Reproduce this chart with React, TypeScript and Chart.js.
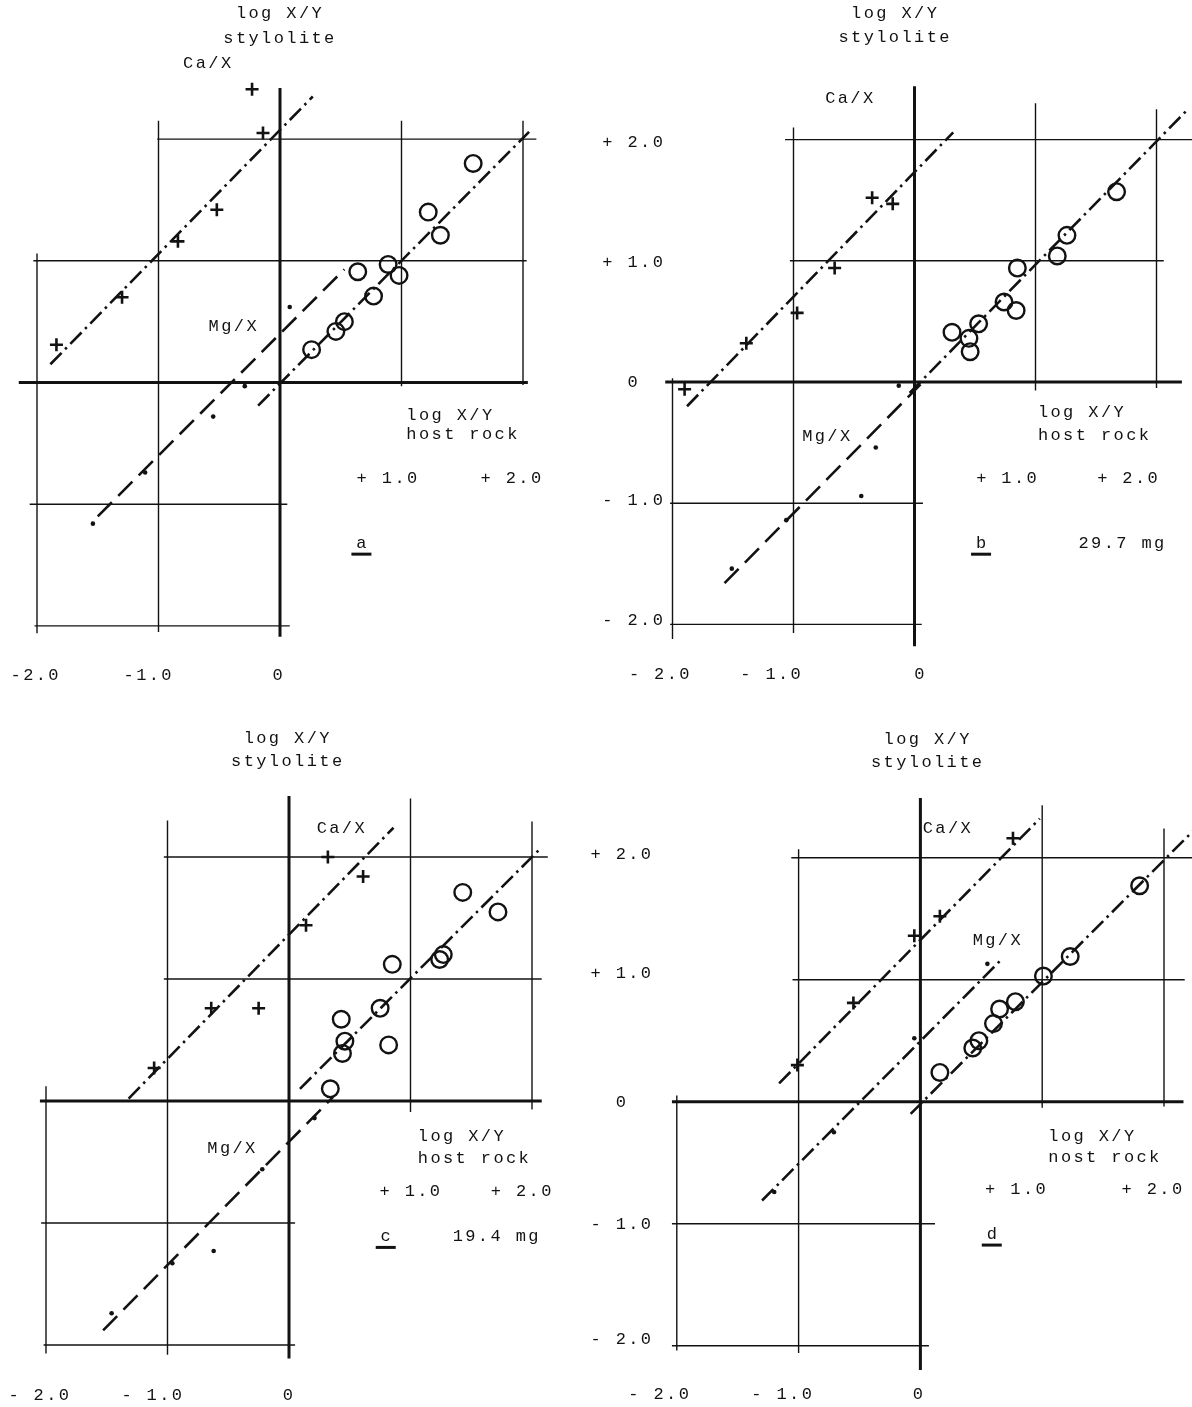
import React, { useEffect, useRef } from "react";
import { Chart, registerables } from "chart.js";

Chart.register(...registerables);

type Pt = [number, number];

// ---------------- panel a ----------------
const caA: Pt[] = [[-0.23, 2.41], [-0.14, 2.05], [-0.52, 1.42], [-0.84, 1.16], [-1.30, 0.70], [-1.84, 0.31]];
const mgA: Pt[] = [[0.08, 0.62], [-0.29, -0.03], [-0.55, -0.28], [-1.11, -0.74], [-1.54, -1.16]];
const hostA: Pt[] = [[1.59, 1.80], [1.22, 1.40], [1.32, 1.21], [0.64, 0.91], [0.89, 0.97], [0.98, 0.88], [0.77, 0.71], [0.53, 0.50], [0.46, 0.42], [0.26, 0.27]];
const caLineA: Pt[] = [[-1.89, 0.15], [0.27, 2.35]];
const mgLineA: Pt[] = [[-1.50, -1.10], [0.53, 0.93]];
const hostLineA: Pt[] = [[-0.18, -0.19], [2.05, 2.06]];

// ---------------- panel b ----------------
const caB: Pt[] = [[-0.35, 1.52], [-0.18, 1.47], [-0.66, 0.94], [-0.97, 0.57], [-1.39, 0.32], [-1.90, -0.06]];
const mgB: Pt[] = [[-0.13, -0.03], [-0.32, -0.54], [-0.44, -0.94], [-1.06, -1.14], [-1.51, -1.54]];
const hostB: Pt[] = [[1.67, 1.57], [1.26, 1.21], [1.18, 1.04], [0.85, 0.94], [0.74, 0.66], [0.84, 0.59], [0.53, 0.48], [0.31, 0.41], [0.45, 0.36], [0.46, 0.25]];
const caLineB: Pt[] = [[-1.88, -0.20], [0.32, 2.06]];
const mgLineB: Pt[] = [[-1.57, -1.66], [0.05, -0.02]];
const hostLineB: Pt[] = [[-0.04, -0.09], [2.25, 2.24]];

// ---------------- panel c ----------------
const caC: Pt[] = [[0.32, 2.00], [0.61, 1.84], [0.14, 1.44], [-0.25, 0.76], [-0.64, 0.76], [-1.11, 0.27]];
const mgC: Pt[] = [[0.21, -0.14], [-0.22, -0.56], [-0.62, -1.23], [-0.96, -1.33], [-1.46, -1.74]];
const hostC: Pt[] = [[1.43, 1.71], [1.72, 1.55], [1.27, 1.20], [1.24, 1.16], [0.85, 1.12], [0.75, 0.76], [0.43, 0.67], [0.46, 0.49], [0.44, 0.39], [0.82, 0.46], [0.34, 0.10]];
const caLineC: Pt[] = [[-1.32, 0.02], [0.86, 2.24]];
const mgLineC: Pt[] = [[-1.53, -1.88], [0.36, 0.03]];
const hostLineC: Pt[] = [[0.09, 0.10], [2.06, 2.06]];

// ---------------- panel d ----------------
const caD: Pt[] = [[0.76, 2.16], [0.16, 1.52], [-0.05, 1.36], [-0.55, 0.81], [-1.01, 0.30]];
const mgD: Pt[] = [[0.55, 1.13], [-0.05, 0.52], [-0.71, -0.25], [-1.20, -0.74]];
const hostD: Pt[] = [[1.80, 1.77], [1.23, 1.19], [1.01, 1.03], [0.78, 0.82], [0.65, 0.76], [0.60, 0.64], [0.48, 0.50], [0.43, 0.44], [0.16, 0.24]];
const caLineD: Pt[] = [[-1.16, 0.15], [0.98, 2.32]];
const mgLineD: Pt[] = [[-1.30, -0.81], [0.66, 1.16]];
const hostLineD: Pt[] = [[-0.08, -0.10], [2.25, 2.23]];

// ---------------- tick labels ----------------
const xTickTextA = ["-2.0", "-1.0", "0"];
const xTickTextSpaced = ["- 2.0", "- 1.0", "0"];
const yTickText = ["+ 2.0", "+ 1.0", "0", "- 1.0", "- 2.0"];
const hostTickText = ["+ 1.0", "+ 2.0"];
const axisTitleTop = ["log X/Y", "stylolite"];
const axisTitleRight = ["log X/Y", "host rock"];
const axisTitleRightD = ["log X/Y", "nost rock"];

const INK = "#121212";
const FONT = '17px "Liberation Mono", "Courier New", monospace';

type Label = { t: string; x: number; y: number; al?: CanvasTextAlign; u?: boolean };
type Frame = { left: number; top: number; w: number; h: number; ox: number; oy: number; sx: number; sy: number };
type PanelCfg = {
  frame: Frame;
  ca: Pt[]; mg: Pt[]; host: Pt[];
  caLine: Pt[]; mgLine: Pt[]; hostLine: Pt[];
  mgDash: number[];
  hGrid: number[][]; // [y, x1, x2]
  vGrid: number[][]; // [x, y1, y2]
  labels: Label[];
};

const DASH_DOT = [16, 5, 2.5, 5];
const LONG_DASH = [20, 9];

const ticksX = (texts: string[], xs: number[], y: number): Label[] => texts.map((t, i) => ({ t, x: xs[i], y }));
const ticksY = (texts: string[], x: number, ys: number[]): Label[] => texts.map((t, i) => ({ t, x, y: ys[i] }));

const panels: PanelCfg[] = [
  {
    frame: { left: 0, top: 0, w: 596, h: 703, ox: 280, oy: 382.5, sx: 121.5, sy: 121.7 },
    ca: caA, mg: mgA, host: hostA, caLine: caLineA, mgLine: mgLineA, hostLine: hostLineA,
    mgDash: LONG_DASH,
    hGrid: [[2, -1.01, 2.11], [1, -2.03, 2.03], [0, -2.15, 2.04], [-1, -2.06, 0.06], [-2, -2.02, 0.08]],
    vGrid: [[-2, 1.06, -2.06], [-1, 2.15, -2.05], [0, 2.42, -2.09], [1, 2.15, -0.03], [2, 2.15, -0.02]],
    labels: [
      { t: axisTitleTop[0], x: -0.01, y: 3.03 },
      { t: axisTitleTop[1], x: -0.01, y: 2.83 },
      { t: "Ca/X", x: -0.60, y: 2.62 },
      { t: "Mg/X", x: -0.39, y: 0.46 },
      { t: axisTitleRight[0], x: 1.04, y: -0.27, al: "left" },
      { t: axisTitleRight[1], x: 1.04, y: -0.43, al: "left" },
      ...ticksX(hostTickText, [0.88, 1.90], -0.785),
      { t: "a", x: 0.67, y: -1.32, u: true },
      ...ticksX(xTickTextA, [-2.02, -1.09, -0.02], -2.41),
    ],
  },
  {
    frame: { left: 560, top: 0, w: 632, h: 703, ox: 914.5, oy: 382, sx: 121, sy: 121.2 },
    ca: caB, mg: mgB, host: hostB, caLine: caLineB, mgLine: mgLineB, hostLine: hostLineB,
    mgDash: LONG_DASH,
    hGrid: [[2, -1.07, 2.4], [1, -1.03, 2.06], [0, -2.06, 2.21], [-1, -2.02, 0.07], [-2, -2.02, 0.06]],
    vGrid: [[-2, 0.03, -2.12], [-1, 2.10, -2.07], [0, 2.44, -2.18], [1, 2.3, -0.07], [2, 2.25, -0.05]],
    labels: [
      { t: axisTitleTop[0], x: -0.17, y: 3.04 },
      { t: axisTitleTop[1], x: -0.17, y: 2.84 },
      { t: "Ca/X", x: -0.54, y: 2.34 },
      { t: "Mg/X", x: -0.73, y: -0.45 },
      { t: axisTitleRight[0], x: 1.02, y: -0.25, al: "left" },
      { t: axisTitleRight[1], x: 1.02, y: -0.44, al: "left" },
      ...ticksX(hostTickText, [0.76, 1.76], -0.80),
      { t: "b", x: 0.55, y: -1.33, u: true },
      { t: "29.7 mg", x: 1.71, y: -1.33 },
      ...ticksY(yTickText, -2.33, [1.98, 0.99, 0.0, -0.975, -1.97]),
      ...ticksX(xTickTextSpaced, [-2.11, -1.19, 0.04], -2.41),
    ],
  },
  {
    frame: { left: 0, top: 703, w: 596, h: 704, ox: 289, oy: 1101, sx: 121.5, sy: 122 },
    ca: caC, mg: mgC, host: hostC, caLine: caLineC, mgLine: mgLineC, hostLine: hostLineC,
    mgDash: LONG_DASH,
    hGrid: [[2, -1.03, 2.13], [1, -1.03, 2.08], [0, -2.05, 2.08], [-1, -2.04, 0.05], [-2, -2.02, 0.05]],
    vGrid: [[-2, 0.12, -2.07], [-1, 2.3, -2.08], [0, 2.5, -2.11], [1, 2.48, -0.09], [2, 2.29, -0.07]],
    labels: [
      { t: axisTitleTop[0], x: -0.02, y: 2.97 },
      { t: axisTitleTop[1], x: -0.02, y: 2.78 },
      { t: "Ca/X", x: 0.425, y: 2.235 },
      { t: "Mg/X", x: -0.475, y: -0.39 },
      { t: axisTitleRight[0], x: 1.06, y: -0.29, al: "left" },
      { t: axisTitleRight[1], x: 1.06, y: -0.47, al: "left" },
      ...ticksX(hostTickText, [0.994, 1.91], -0.74),
      { t: "c", x: 0.796, y: -1.11, u: true },
      { t: "19.4 mg", x: 1.70, y: -1.11 },
      ...ticksX(xTickTextSpaced, [-2.06, -1.13, -0.01], -2.41),
    ],
  },
  {
    frame: { left: 560, top: 703, w: 632, h: 704, ox: 920.4, oy: 1101.7, sx: 121.8, sy: 122 },
    ca: caD, mg: mgD, host: hostD, caLine: caLineD, mgLine: mgLineD, hostLine: hostLineD,
    mgDash: DASH_DOT,
    hGrid: [[2, -1.06, 2.4], [1, -1.05, 2.17], [0, -2.04, 2.16], [-1, -2.04, 0.12], [-2, -2.04, 0.07]],
    vGrid: [[-2, 0.05, -2.04], [-1, 2.07, -2.06], [0, 2.49, -2.2], [1, 2.43, -0.05], [2, 2.24, -0.04]],
    labels: [
      { t: axisTitleTop[0], x: 0.05, y: 2.97 },
      { t: axisTitleTop[1], x: 0.05, y: 2.78 },
      { t: "Ca/X", x: 0.216, y: 2.24 },
      { t: "Mg/X", x: 0.626, y: 1.325 },
      { t: axisTitleRightD[0], x: 1.05, y: -0.287, al: "left" },
      { t: axisTitleRightD[1], x: 1.05, y: -0.46, al: "left" },
      ...ticksX(hostTickText, [0.78, 1.90], -0.72),
      { t: "d", x: 0.586, y: -1.085, u: true },
      ...ticksY(yTickText, -2.46, [2.03, 1.05, -0.01, -1.01, -1.95]),
      ...ticksX(xTickTextSpaced, [-2.15, -1.14, -0.02], -2.40),
    ],
  },
];

const toXY = (pts: Pt[]) => pts.map(([x, y]) => ({ x, y }));

function makeDecor(cfg: PanelCfg) {
  return {
    id: "panelDecor",
    beforeDatasetsDraw(chart: any) {
      const { ctx } = chart;
      const xs = chart.scales.x;
      const ys = chart.scales.y;
      ctx.save();
      ctx.strokeStyle = INK;
      ctx.lineCap = "butt";
      for (const [v, a, b] of cfg.hGrid) {
        ctx.lineWidth = v === 0 ? 3 : 1.4;
        const py = ys.getPixelForValue(v);
        ctx.beginPath();
        ctx.moveTo(xs.getPixelForValue(a), py);
        ctx.lineTo(xs.getPixelForValue(b), py);
        ctx.stroke();
      }
      for (const [v, a, b] of cfg.vGrid) {
        ctx.lineWidth = v === 0 ? 3 : 1.4;
        const px = xs.getPixelForValue(v);
        ctx.beginPath();
        ctx.moveTo(px, ys.getPixelForValue(a));
        ctx.lineTo(px, ys.getPixelForValue(b));
        ctx.stroke();
      }
      ctx.restore();
    },
    afterDatasetsDraw(chart: any) {
      const { ctx } = chart;
      const xs = chart.scales.x;
      const ys = chart.scales.y;
      ctx.save();
      ctx.fillStyle = INK;
      ctx.strokeStyle = INK;
      ctx.font = FONT;
      (ctx as any).letterSpacing = "2.4px";
      ctx.textBaseline = "middle";
      for (const l of cfg.labels) {
        const px = xs.getPixelForValue(l.x);
        const py = ys.getPixelForValue(l.y);
        ctx.textAlign = l.al || "center";
        const off = (l.al || "center") === "center" ? 1.2 : 0;
        ctx.fillText(l.t, px + off, py);
        if (l.u) {
          ctx.lineWidth = 3;
          ctx.beginPath();
          ctx.moveTo(px - 10, py + 11);
          ctx.lineTo(px + 10, py + 11);
          ctx.stroke();
        }
      }
      ctx.restore();
    },
  };
}

function Panel({ cfg }: { cfg: PanelCfg }) {
  const ref = useRef<HTMLCanvasElement | null>(null);
  const f = cfg.frame;
  useEffect(() => {
    if (!ref.current) return;
    const lox = f.ox - f.left;
    const loy = f.oy - f.top;
    const lineDs = (pts: Pt[], dash: number[]) => ({
      data: toXY(pts),
      showLine: true,
      borderColor: INK,
      borderWidth: 2.6,
      borderDash: dash,
      pointRadius: 0,
      pointHoverRadius: 0,
      fill: false,
      tension: 0,
    });
    const pointDs = (pts: Pt[], style: string, r: number, bw: number, bg: string) => ({
      data: toXY(pts),
      showLine: false,
      pointStyle: style,
      pointRadius: r,
      pointHoverRadius: r,
      pointBorderWidth: bw,
      pointBorderColor: INK,
      pointBackgroundColor: bg,
      borderColor: INK,
      backgroundColor: bg,
    });
    const chart = new Chart(ref.current, {
      type: "scatter",
      data: {
        datasets: [
          pointDs(cfg.host, "circle", 8.3, 2.4, "rgba(0,0,0,0)"),
          pointDs(cfg.ca, "cross", 6.5, 2.6, INK),
          pointDs(cfg.mg, "circle", 2.3, 0, INK),
          lineDs(cfg.caLine, DASH_DOT),
          lineDs(cfg.mgLine, cfg.mgDash),
          lineDs(cfg.hostLine, DASH_DOT),
        ] as any,
      },
      options: {
        responsive: false,
        maintainAspectRatio: false,
        animation: false,
        devicePixelRatio: 1,
        events: [],
        layout: { padding: 0, autoPadding: false },
        plugins: { legend: { display: false }, tooltip: { enabled: false } },
        scales: {
          x: { type: "linear", display: false, min: -lox / f.sx, max: (f.w - lox) / f.sx },
          y: { type: "linear", display: false, min: -(f.h - loy) / f.sy, max: loy / f.sy },
        },
      } as any,
      plugins: [makeDecor(cfg) as any],
    });
    return () => chart.destroy();
  }, [cfg]);
  return (
    <canvas
      ref={ref}
      width={f.w}
      height={f.h}
      style={{ position: "absolute", left: f.left, top: f.top, width: f.w, height: f.h, display: "block" }}
    />
  );
}

export default function App() {
  return (
    <div style={{ position: "absolute", left: 0, top: 0, width: 1192, height: 1407, background: "#fff", overflow: "hidden" }}>
      {panels.map((p, i) => (
        <Panel key={i} cfg={p} />
      ))}
    </div>
  );
}
